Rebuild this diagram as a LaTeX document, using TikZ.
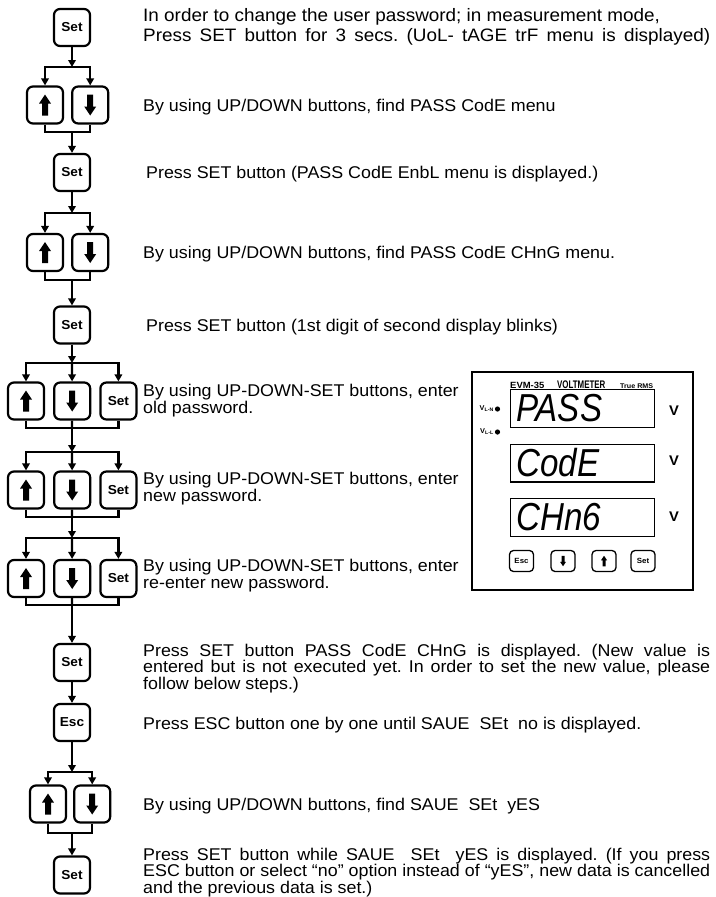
\documentclass[tikz,border=0pt]{standalone}
\usepackage{fontspec}
\setmainfont{Liberation Sans}[FakeStretch=1.05]
\newfontfamily\segfont{Liberation Sans}[FakeStretch=0.85]
\newfontfamily\condfont{Liberation Sans}[FakeStretch=0.72]
\usetikzlibrary{positioning,arrows.meta}
\frenchspacing

\newcommand{\fullline}[1]{\makebox[567pt][s]{#1}}

\begin{document}
\begin{tikzpicture}[x=1pt,y=-1pt,
    key/.style={draw, line width=2.2pt, rounded corners=6pt, minimum width=36pt, minimum height=37pt, inner sep=0pt, font=\fontsize{13}{13}\selectfont\bfseries},
    link/.style={line width=2.2pt},
    flow/.style={line width=2.2pt, -{Triangle[length=7pt,width=7.5pt]}},
    note/.style={anchor=base west, inner sep=0pt, align=left, font=\fontsize{17}{16.5}\selectfont},
    mini/.style={draw, line width=1.3pt, rounded corners=4pt, minimum width=24pt, minimum height=21pt, inner sep=0pt, font=\fontsize{7.5}{7.5}\selectfont\bfseries},
    window/.style={draw, line width=1.3pt, minimum width=143.7pt, minimum height=37.7pt, inner sep=0pt},
    seg/.style={anchor=west, inner sep=0pt, font=\segfont\itshape\fontsize{39}{39}\selectfont},
    small/.style={anchor=base west, inner sep=0pt},
    uparr/.pic={\fill (0,-10.5) -- (6,-1.5) -- (3,-1.5) -- (3,10.5) -- (-3,10.5) -- (-3,-1.5) -- (-6,-1.5) -- cycle;},
    dnarr/.pic={\fill (0,10.5) -- (6,1.5) -- (3,1.5) -- (3,-10.5) -- (-3,-10.5) -- (-3,1.5) -- (-6,1.5) -- cycle;}
  ]
  \useasboundingbox (0,0) rectangle (715,897);

  \node[key] (set1) at (72,27.5) {Set};
  \coordinate (j1) at (72,67);
  \node[key] (up1) at (45,105) {};
  \node[key, right=7pt of up1] (dn1) {};
  \coordinate (m1) at (72,132);
  \node[key] (set2) at (72,172.5) {Set};
  \coordinate (j2) at (72,213);
  \node[key] (up2) at (45,252.5) {};
  \node[key, right=7pt of up2] (dn2) {};
  \coordinate (m2) at (72,280);
  \node[key] (set3) at (72,325) {Set};
  \coordinate (j3) at (72,363);
  \node[key] (ua) at (26,401) {};
  \node[key, right=8pt of ua] (da) {};
  \node[key, right=8pt of da] (sa) {Set};
  \coordinate (ma) at (72,428);
  \coordinate (j4) at (72,452);
  \node[key] (ub) at (26,490) {};
  \node[key, right=8pt of ub] (db) {};
  \node[key, right=8pt of db] (sb) {Set};
  \coordinate (mb) at (72,517);
  \coordinate (j5) at (72,538);
  \node[key] (uc) at (26,578.5) {};
  \node[key, right=8pt of uc] (dc) {};
  \node[key, right=8pt of dc] (sc) {Set};
  \coordinate (mc) at (72,605);
  \node[key] (set4) at (72,662.5) {Set};
  \node[key] (esc) at (72,722.5) {Esc};
  \coordinate (j6) at (72,772);
  \node[key] (up3) at (48,804) {};
  \node[key, right=6pt of up3] (dn3) {};
  \coordinate (m3) at (72,833);
  \node[key] (set5) at (72,875) {Set};

  \pic at (up1) {uparr};  \pic at (dn1) {dnarr};
  \pic at (up2) {uparr};  \pic at (dn2) {dnarr};
  \pic at (ua) {uparr};   \pic at (da) {dnarr};
  \pic at (ub) {uparr};   \pic at (db) {dnarr};
  \pic at (uc) {uparr};   \pic at (dc) {dnarr};
  \pic at (up3) {uparr};  \pic at (dn3) {dnarr};

  \draw[flow] (set1) -- (j1);
  \draw[flow] (j1) -| (up1);
  \draw[flow] (j1) -| (dn1);
  \draw[link] (up1) |- (m1) -| (dn1);
  \draw[flow] (m1) -- (set2);
  \draw[flow] (set2) -- (j2);
  \draw[flow] (j2) -| (up2);
  \draw[flow] (j2) -| (dn2);
  \draw[link] (up2) |- (m2) -| (dn2);
  \draw[flow] (m2) -- (set3);
  \draw[flow] (set3) -- (j3);
  \draw[flow] (j3) -| (ua);
  \draw[flow] (j3) -- (da);
  \draw[flow] (j3) -| (sa);
  \draw[link] (ua) |- (ma) -| (sa);
  \draw[link] (da) -- (ma);
  \draw[flow] (ma) -- (j4);
  \draw[flow] (j4) -| (ub);
  \draw[flow] (j4) -- (db);
  \draw[flow] (j4) -| (sb);
  \draw[link] (ub) |- (mb) -| (sb);
  \draw[link] (db) -- (mb);
  \draw[flow] (mb) -- (j5);
  \draw[flow] (j5) -| (uc);
  \draw[flow] (j5) -- (dc);
  \draw[flow] (j5) -| (sc);
  \draw[link] (uc) |- (mc) -| (sc);
  \draw[link] (dc) -- (mc);
  \draw[flow] (mc) -- (set4);
  \draw[flow] (set4) -- (esc);
  \draw[flow] (esc) -- (j6);
  \draw[flow] (j6) -| (up3);
  \draw[flow] (j6) -| (dn3);
  \draw[link] (up3) |- (m3) -| (dn3);
  \draw[flow] (m3) -- (set5);

  \node[note, font=\fontsize{18}{20}\selectfont] (t1) at (143,41) {In order to change the user password; in measurement mode,\\\fullline{Press SET button for 3 secs. (UoL- tAGE trF menu is displayed)}};
  \node[note] (t2) at (143,111) {By using UP/DOWN buttons, find PASS CodE menu};
  \node[note] (t3) at (146,178) {Press SET button (PASS CodE EnbL menu is displayed.)};
  \node[note] (t4) at (143,258) {By using UP/DOWN buttons, find PASS CodE CHnG menu.};
  \node[note] (t5) at (146,331) {Press SET button (1st digit of second display blinks)};
  \node[note] (t6) at (143,413) {By using UP-DOWN-SET buttons, enter\\old password.};
  \node[note] (t7) at (143,501) {By using UP-DOWN-SET buttons, enter\\new password.};
  \node[note] (t8) at (143,588) {By using UP-DOWN-SET buttons, enter\\re-enter new password.};
  \node[note] (t9) at (143,689) {\fullline{Press SET button PASS CodE CHnG is displayed. (New value is}\\\fullline{entered but is not executed yet. In order to set the new value, please}\\follow below steps.)};
  \node[note] (t10) at (143,729) {Press ESC button one by one until SAUE\ \ SEt\ \ no is displayed.};
  \node[note] (t11) at (143,810) {By using UP/DOWN buttons, find SAUE\ \ SEt\ \ yES};
  \node[note] (t12) at (143,893) {\fullline{Press SET button while SAUE\ \ SEt\ \ yES is displayed. (If you press}\\\fullline{ESC button or select “no” option instead of “yES”, new data is cancelled}\\and the previous data is set.)};

  \draw[line width=1.5pt] (472,372) rectangle (693,590);
  \node[small, font=\fontsize{9}{9}\selectfont\bfseries] (evm) at (510,388) {EVM-35};
  \node[small, font=\condfont\fontsize{11}{11}\selectfont\bfseries] (volt) at (557,388) {VOLTMETER};
  \node[small, font=\fontsize{6.8}{7}\selectfont\bfseries] (rms) at (620,388) {True RMS};
  \node[window] (w1) at (582.5,408.5) {};
  \node[window] (w2) at (582.5,463) {};
  \node[window] (w3) at (582.5,517.5) {};
  \node[seg] (s1) at ([xshift=6pt]w1.west) {PASS};
  \node[seg] (s2) at ([xshift=6pt]w2.west) {CodE};
  \node[seg] (s3) at ([xshift=6pt]w3.west) {CHn6};
  \node[font=\fontsize{14}{14}\selectfont\bfseries] (v1) at (674,411) {V};
  \node[font=\fontsize{14}{14}\selectfont\bfseries] (v2) at (674,461) {V};
  \node[font=\fontsize{14}{14}\selectfont\bfseries] (v3) at (674,517) {V};
  \node[anchor=east, inner sep=0pt, font=\fontsize{7}{7}\selectfont\bfseries] (vln) at (494,409) {V\textsubscript{L-N}};
  \node[anchor=east, inner sep=0pt, font=\fontsize{7}{7}\selectfont\bfseries] (vll) at (494,432) {V\textsubscript{L-L}};
  \fill (497.5,409) circle (2.6pt);
  \fill (497.5,432) circle (2.6pt);
  \node[mini] (pesc) at (521.5,561) {Esc};
  \node[mini] (pdn) at (563,561) {};
  \node[mini] (pup) at (604,561) {};
  \node[mini] (pset) at (643,561) {Set};
  \pic[scale=0.5] at (pdn) {dnarr};
  \pic[scale=0.5] at (pup) {uparr};
\end{tikzpicture}
\end{document}
